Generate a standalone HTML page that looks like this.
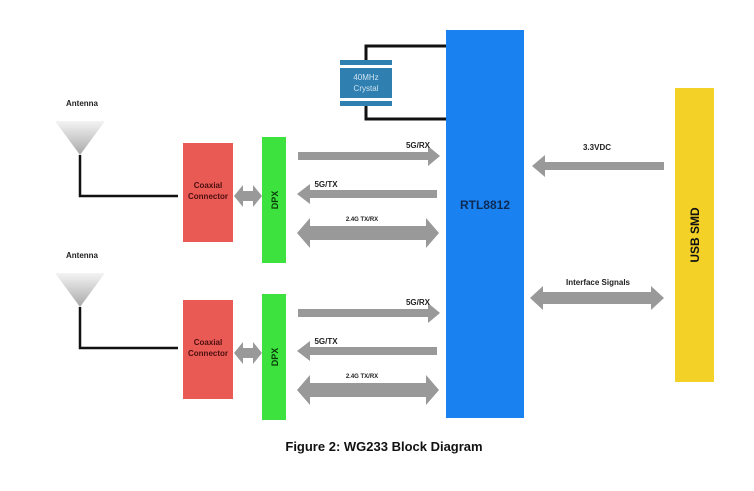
<!DOCTYPE html>
<html><head><meta charset="utf-8"><style>
html,body{margin:0;padding:0;background:#fff;width:754px;height:491px;overflow:hidden}
text{font-family:"Liberation Sans",sans-serif;font-weight:bold}
</style></head><body>
<svg width="754" height="491" viewBox="0 0 754 491" xmlns="http://www.w3.org/2000/svg">
<defs>
<linearGradient id="ant" x1="0" y1="0" x2="0" y2="1"><stop offset="0" stop-color="#f4f4f4"/><stop offset="1" stop-color="#a8a8a8"/></linearGradient>
</defs>
<polyline points="446,46 366,46 366,62" fill="none" stroke="#111" stroke-width="3"/>
<polyline points="366,104 366,119 446,119" fill="none" stroke="#111" stroke-width="3"/>
<rect x="340" y="60" width="52" height="5" fill="#2f7fb0"/>
<rect x="340" y="68" width="52" height="30" fill="#2f7fb0"/>
<rect x="340" y="101" width="52" height="5" fill="#2f7fb0"/>
<text x="366" y="80" font-size="8" fill="#cfe3f0" text-anchor="middle" style="font-weight:normal">40MHz</text>
<text x="366" y="91" font-size="8" fill="#cfe3f0" text-anchor="middle" style="font-weight:normal">Crystal</text>
<rect x="446" y="30" width="78" height="388" fill="#1a82f0"/>
<text x="485" y="209" font-size="12" fill="#0d2a55" text-anchor="middle">RTL8812</text>
<rect x="675" y="88" width="39" height="294" fill="#f4d126"/>
<text transform="translate(699,235) rotate(-90)" font-size="12" fill="#111" text-anchor="middle">USB SMD</text>
<polygon points="664,162 545,162 545,155 532,166 545,177 545,170 664,170" fill="#999"/>
<text x="597" y="150" font-size="8" fill="#222" text-anchor="middle">3.3VDC</text>
<polygon points="530,298 543,286 543,292 651,292 651,286 664,298 651,310 651,304 543,304 543,310" fill="#999"/>
<text x="598" y="285" font-size="8" fill="#222" text-anchor="middle">Interface Signals</text>

<g id="ant1">
<text x="66" y="106" font-size="8" fill="#222">Antenna</text>
<polygon points="55,121 105,121 80,155" fill="url(#ant)"/>
<polyline points="80,155 80,196 178,196" fill="none" stroke="#111" stroke-width="2.5"/>
</g>
<g id="set">
<rect x="183" y="143" width="50" height="99" fill="#ea5a55"/>
<text x="208" y="188" font-size="8" fill="#4a0f0f" text-anchor="middle">Coaxial</text>
<text x="208" y="199" font-size="8" fill="#4a0f0f" text-anchor="middle">Connector</text>
<polygon points="234,196 243,185 243,191 253,191 253,185 262,196 253,207 253,201 243,201 243,207" fill="#999"/>
<rect x="262" y="137" width="24" height="126" fill="#3ee23e"/>
<text transform="translate(278,200) rotate(-90)" font-size="9" fill="#0a3a0a" text-anchor="middle">DPX</text>
<polygon points="298,152 428,152 428,146 440,156 428,166 428,160 298,160" fill="#999"/>
<text x="418" y="148" font-size="8" fill="#222" text-anchor="middle">5G/RX</text>
<polygon points="437,190 310,190 310,184 297,194 310,204 310,198 437,198" fill="#999"/>
<text x="326" y="187" font-size="8" fill="#222" text-anchor="middle">5G/TX</text>
<polygon points="297,233 310,218 310,226 426,226 426,218 439,233 426,248 426,240 310,240 310,248" fill="#999"/>
<text x="362" y="221" font-size="6" fill="#222" text-anchor="middle">2.4G TX/RX</text>
</g>
<use href="#ant1" transform="translate(0,152)"/>
<use href="#set" transform="translate(0,157)"/>
<text x="384" y="451" font-size="13" fill="#111" text-anchor="middle">Figure 2: WG233 Block Diagram</text>
</svg>
</body></html>
